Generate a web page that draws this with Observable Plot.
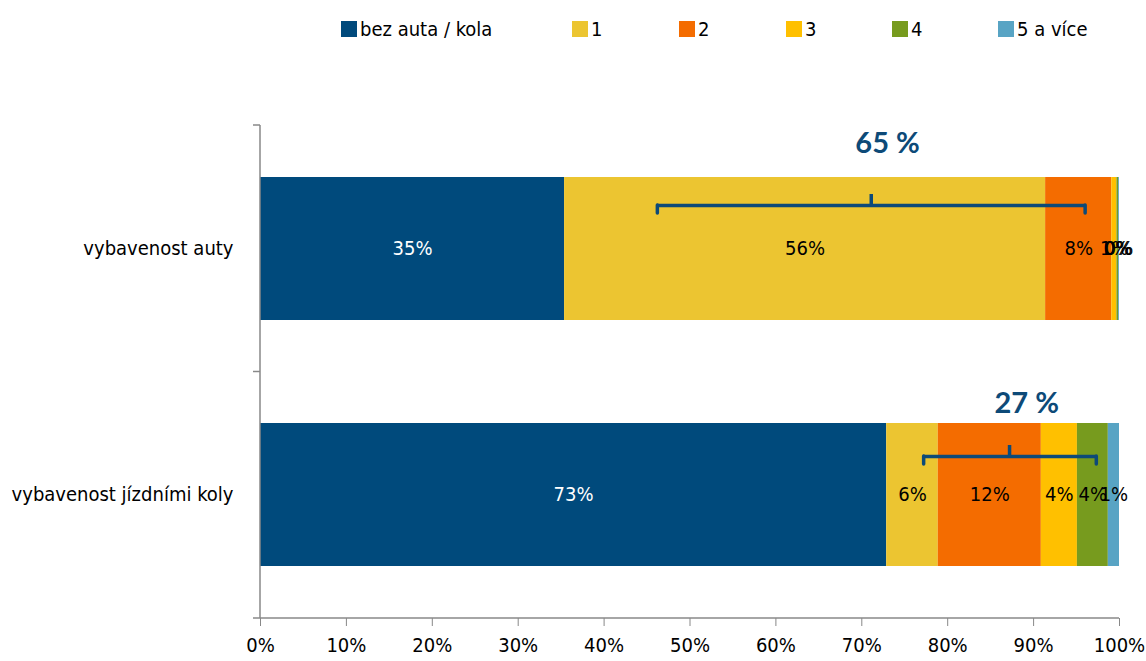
<!DOCTYPE html>
<html>
<head>
<meta charset="utf-8">
<script src="https://cdn.jsdelivr.net/npm/d3@7"></script>
<script src="https://cdn.jsdelivr.net/npm/@observablehq/plot@0.6"></script>
<style>
  html, body { margin: 0; padding: 0; background: #fff; }
  body { width: 1146px; height: 661px; overflow: hidden; font-family: "DejaVu Sans Condensed", "DejaVu Sans", sans-serif; }
  #legend { position: relative; height: 60px; width: 1146px; }
  .item { position: absolute; top: 17px; display: flex; align-items: center; font-size: 20px; color: #000; white-space: nowrap; }
  .sw { width: 16px; height: 16px; margin-right: 3px; }
</style>
</head>
<body>
<div id="legend"></div>
<div id="chart"></div>
<script>
// ---- data ----
const categories = ["vybavenost auty", "vybavenost jízdními koly"];
const series = ["bez auta / kola", "1", "2", "3", "4", "5 a více"];
const carValues  = [35.4, 56.0, 7.7, 0.6, 0.2, 0.1];
const bikeValues = [72.9, 6.0, 12.0, 4.2, 3.6, 1.3];
const colors = ["#004a7c", "#ecc531", "#f46c00", "#ffc000", "#779b1e", "#58a4c4"];
const xTicks = [0, 10, 20, 30, 40, 50, 60, 70, 80, 90, 100];
const summaryLabels = ["65 %", "27 %"];
const summaryAt = [73.0, 89.2];      // x-position of summary text (% units)
const bracketFrom = [46.2, 77.2];    // bracket start (% units)
const bracketMid = [71.1, 87.2];     // bracket middle tick (% units)
const bracketTo = [96.0, 97.3];      // bracket end (% units)

// ---- table ----
const rows = [];
[carValues, bikeValues].forEach((vals, ci) => {
  vals.forEach((v, si) => rows.push({cat: categories[ci], series: series[si], si, value: v}));
});

// ---- legend ----
const legendX = [341, 572, 679, 786, 892, 998];
const legend = document.getElementById("legend");
series.forEach((s, i) => {
  const it = document.createElement("div");
  it.className = "item";
  it.style.left = legendX[i] + "px";
  it.innerHTML = `<span class="sw" style="background:${colors[i]}"></span><span>${s}</span>`;
  legend.appendChild(it);
});

const bracketRows = categories.map((c, i) => ({cat: c, from: bracketFrom[i], mid: bracketMid[i], to: bracketTo[i], label: summaryLabels[i], at: summaryAt[i]}));
const bc = "#0d4a78";
const BW = 143; // band width in px (derived from the y scale settings below)
const hInset = [28, 33];
const bracketMarks = [];
bracketRows.forEach((b, i) => {
  const d = [b];
  const top = hInset[i];
  bracketMarks.push(
    Plot.ruleY(d, {y: "cat", x1: "from", x2: "to", dy: top - BW / 2, stroke: bc, strokeWidth: 3.5}),
    Plot.tickX(d, {x: "from", y: "cat", insetTop: top, insetBottom: BW - top - 8, stroke: bc, strokeWidth: 3.5, strokeLinecap: "round"}),
    Plot.tickX(d, {x: "to", y: "cat", insetTop: top, insetBottom: BW - top - 8, stroke: bc, strokeWidth: 3.5, strokeLinecap: "round"}),
    Plot.tickX(d, {x: "mid", y: "cat", insetTop: top - 11, insetBottom: BW - top, stroke: bc, strokeWidth: 3.5}),
    Plot.text(d, {x: "at", y: "cat", text: "label", dy: i === 0 ? -105.5 : -91.5, fill: bc, fontSize: 29, fontWeight: "bold", fontFamily: "Lato, 'Open Sans', sans-serif"})
  );
});

const chart = Plot.plot({
  width: 1146,
  height: 601,
  marginLeft: 260,
  marginRight: 27,
  marginTop: 65,
  marginBottom: 43,
  style: {fontFamily: "'DejaVu Sans Condensed', 'DejaVu Sans', sans-serif", fontSize: "20px", color: "#000", background: "#fff", overflow: "visible"},
  x: {domain: [0, 100]},
  y: {domain: categories, paddingInner: 0.42, paddingOuter: 0.21},
  color: {domain: series, range: colors},
  marks: [
    Plot.barX(rows, Plot.stackX({x: "value", y: "cat", fill: "series", order: series})),
    Plot.text(rows, Plot.stackX({x: "value", y: "cat", z: "series", order: series,
      text: d => Math.round(d.value) + "%",
      fill: d => d.si === 0 ? "#fff" : "#000", fontSize: 20})),
    ...bracketMarks,
    Plot.axisX({ticks: xTicks, tickFormat: d => d + "%", tickSize: 8, tickPadding: 11, stroke: "#888", fill: "#000", label: null, fontSize: 20}),
    Plot.axisY({tickSize: 0, tickPadding: 27, label: null, fill: "#000", fontSize: 20}),
    (index, scales, values, dims) => {
      const g = d3.create("svg:g").attr("stroke", "#888").attr("stroke-width", 1.5);
      const x0 = scales.x(0), x1 = scales.x(100);
      const yT = dims.marginTop, yB = dims.height - dims.marginBottom;
      g.append("line").attr("x1", x0).attr("x2", x0).attr("y1", yT).attr("y2", yB);
      g.append("line").attr("x1", x0).attr("x2", x1).attr("y1", yB).attr("y2", yB);
      [yT, (yT + yB) / 2, yB].forEach(yy => g.append("line").attr("x1", x0 - 7).attr("x2", x0).attr("y1", yy).attr("y2", yy));
      return g.node();
    }
  ]
});
document.getElementById("chart").appendChild(chart);
</script>
</body>
</html>
